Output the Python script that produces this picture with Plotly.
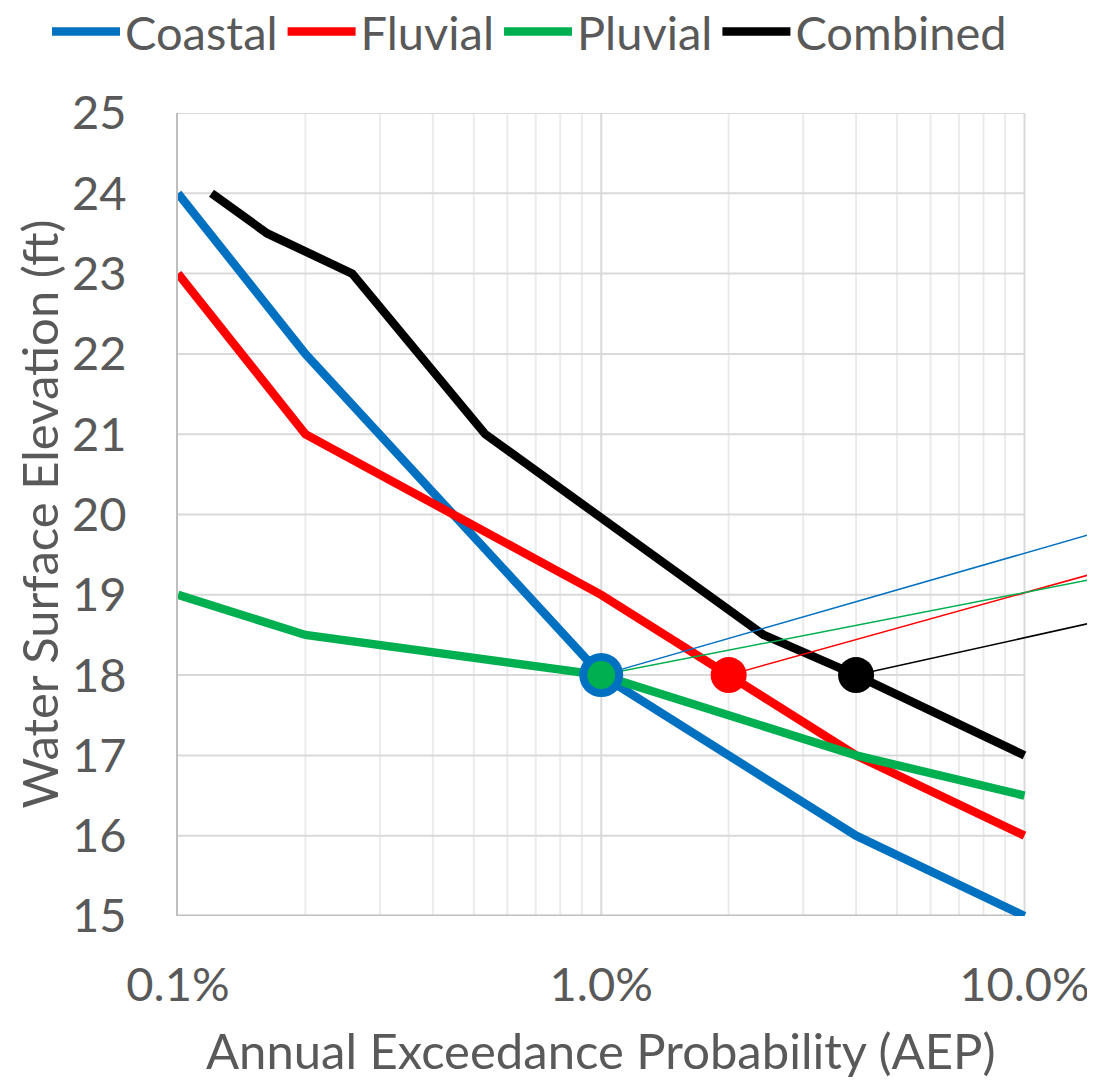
import plotly.graph_objects as go

# ---- data ----
series_names = ["Coastal", "Fluvial", "Pluvial", "Combined"]
series_colors = ["#0070C0", "#FF0000", "#00B050", "#000000"]

aep_coastal = [0.1, 0.2, 1, 2, 4, 10]
wse_coastal = [24, 22, 18, 17, 16, 15]
aep_fluvial = [0.1, 0.2, 1, 2, 4, 10]
wse_fluvial = [23, 21, 19, 18, 17, 16]
aep_pluvial = [0.1, 0.2, 1, 2, 4, 10]
wse_pluvial = [19, 18.5, 18, 17.5, 17, 16.5]
aep_combined = [0.12, 0.1625, 0.258, 0.532, 2.42, 4, 10]
wse_combined = [24, 23.5, 23, 21, 18.5, 18, 17]

# design-level points (18 ft) and the thin leader lines running off the right edge
design_wse = 18
design_aep = [1, 2, 1, 4]            # Coastal, Fluvial, Pluvial, Combined
leader_end_aep = 14.68
leader_end_wse = [19.77, 19.27, 19.20, 18.66]
marker_sizes = [44, 36, 28, 36]

x_tick_vals = [0.1, 1, 10]
x_tick_text = ["0.1%", "1.0%", "10.0%"]
x_minor_vals = [0.2, 0.3, 0.4, 0.5, 0.6, 0.7, 0.8, 0.9, 2, 3, 4, 5, 6, 7, 8, 9]
y_tick_vals = [15, 16, 17, 18, 19, 20, 21, 22, 23, 24, 25]

FONT = "Lato, 'Open Sans', sans-serif"
TXT = "#595959"

fig = go.Figure()

def vlines(xs, y0, y1):
    X, Y = [], []
    for x in xs:
        X += [x, x, None]
        Y += [y0, y1, None]
    return X, Y

def hlines(ys, x0, x1):
    X, Y = [], []
    for y in ys:
        X += [x0, x1, None]
        Y += [y, y, None]
    return X, Y

ymin, ymax = y_tick_vals[0], y_tick_vals[-1]
xmin, xmax = x_tick_vals[0], x_tick_vals[-1]

gx, gy = vlines(x_minor_vals, ymin, ymax)
fig.add_trace(go.Scatter(x=gx, y=gy, mode="lines", line=dict(color="#EBEBEB", width=2),
                         showlegend=False, hoverinfo="skip"))
gx, gy = vlines(x_tick_vals[1:], ymin, ymax)
fig.add_trace(go.Scatter(x=gx, y=gy, mode="lines", line=dict(color="#D9D9D9", width=2),
                         showlegend=False, hoverinfo="skip"))
gx, gy = hlines(y_tick_vals[1:], xmin, xmax)
fig.add_trace(go.Scatter(x=gx, y=gy, mode="lines", line=dict(color="#D9D9D9", width=2),
                         showlegend=False, hoverinfo="skip"))
# bottom axis line (stops at 10%)
fig.add_trace(go.Scatter(x=[xmin, xmax], y=[ymin, ymin], mode="lines",
                         line=dict(color="#BFBFBF", width=3),
                         showlegend=False, hoverinfo="skip"))

data_x = [aep_coastal, aep_fluvial, aep_pluvial, aep_combined]
data_y = [wse_coastal, wse_fluvial, wse_pluvial, wse_combined]
for name, col, xs, ys in zip(series_names, series_colors, data_x, data_y):
    fig.add_trace(go.Scatter(x=xs, y=ys, mode="lines", name=name,
                             line=dict(color=col, width=8.5)))

for col, xa, ye in zip(series_colors, design_aep, leader_end_wse):
    fig.add_trace(go.Scatter(x=[xa, leader_end_aep], y=[design_wse, ye], mode="lines",
                             line=dict(color=col, width=1.5),
                             showlegend=False, hoverinfo="skip"))

for col, xa, sz in zip(series_colors, design_aep, marker_sizes):
    fig.add_trace(go.Scatter(x=[xa], y=[design_wse], mode="markers",
                             marker=dict(color=col, size=sz, line=dict(width=0)),
                             showlegend=False, cliponaxis=False))

# plot area: page x 178..1095, y 113..916 (page has an 8px body offset)
L, T, W, H = 170, 105, 917, 803
FW, FH = 1095, 1087
fig.update_layout(
    width=FW, height=FH,
    margin=dict(l=L, r=FW - L - W, t=T, b=FH - T - H, autoexpand=False),
    paper_bgcolor="white", plot_bgcolor="white",
    font=dict(family=FONT, color=TXT, size=47),
    showlegend=True,
    legend=dict(orientation="h", xref="paper", yref="paper",
                x=(39 - L) / W, xanchor="left", y=1 + (T - 24) / H, yanchor="middle",
                font=dict(size=47, color=TXT), itemwidth=68,
                bgcolor="rgba(0,0,0,0)"),
    xaxis=dict(type="log", range=[-1, 1.1666], tickvals=x_tick_vals, ticktext=x_tick_text,
               showgrid=False, zeroline=False, showline=False, ticks="",
               ticklabelstandoff=37, automargin=False),
    yaxis=dict(range=[ymin, ymax], tickvals=y_tick_vals, showgrid=False, zeroline=False,
               showline=True, linecolor="#BFBFBF", linewidth=2, ticks="",
               ticklabelstandoff=40, automargin=False),
    annotations=[
        dict(text="Annual Exceedance Probability (AEP)", xref="paper", yref="paper",
             x=(600 - 178) / W, y=-(1042 - (T + H)) / H, xanchor="center", yanchor="middle",
             showarrow=False, font=dict(size=49, color=TXT, family=FONT)),
        dict(text="Water Surface Elevation (ft)", xref="paper", yref="paper",
             x=(30 - L) / W, y=0.5, xanchor="center", yanchor="middle", textangle=-90,
             showarrow=False, font=dict(size=49, color=TXT, family=FONT)),
    ],
)

fig.write_html("out.html")
